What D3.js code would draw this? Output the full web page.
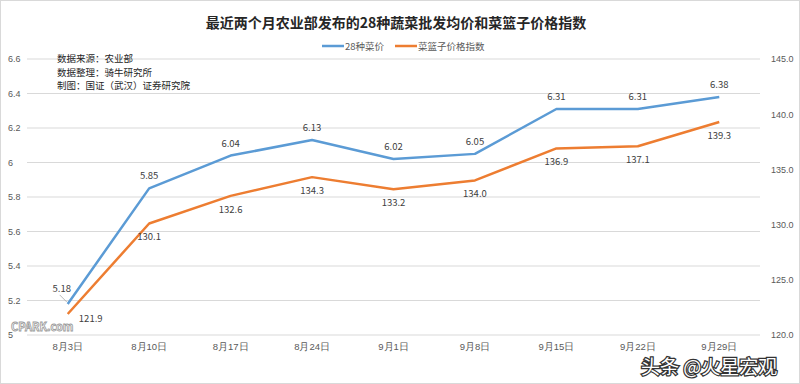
<!DOCTYPE html>
<html>
<head>
<meta charset="utf-8">
<script src="https://cdn.jsdelivr.net/npm/d3@7"></script>
<style>
  body { margin: 0; background: #fff; }
  svg { display: block; font-family: "Noto Sans CJK SC", "Microsoft YaHei", sans-serif; }
</style>
</head>
<body>
<svg id="chart" width="800" height="384"></svg>
<script>
// data
const dates = ["8月3日", "8月10日", "8月17日", "8月24日", "9月1日", "9月8日", "9月15日", "9月22日", "9月29日"];
const vegPrice = [5.18, 5.85, 6.04, 6.13, 6.02, 6.05, 6.31, 6.31, 6.38];
const basketIndex = [121.9, 130.1, 132.6, 134.3, 133.2, 134.0, 136.9, 137.1, 139.3];
const leftTicks = [5, 5.2, 5.4, 5.6, 5.8, 6, 6.2, 6.4, 6.6];
const rightTicks = [120, 125, 130, 135, 140, 145];
const notes = ["数据来源：农业部", "数据整理：骑牛研究所", "制图：国证（武汉）证券研究院"];

const svg = d3.select("#chart");
const width = +svg.attr("width");
const height = +svg.attr("height");

const blue = "#5b9bd5";
const orange = "#ed7d31";
const textColor = "#595959";

const plotLeft = 27, plotRight = 760, plotTop = 59, plotBottom = 335;

const x = d3.scaleBand().domain(dates).range([plotLeft, plotRight]);
const yLeft = d3.scaleLinear().domain([5, 6.6]).range([plotBottom, plotTop]);
const yRight = d3.scaleLinear().domain([120, 145]).range([plotBottom, plotTop]);
const cx = d => x(d) + x.bandwidth() / 2;

// frame
svg.append("rect")
  .attr("x", 0.5).attr("y", 0.5)
  .attr("width", width - 1).attr("height", height - 1)
  .attr("fill", "#fff")
  .attr("stroke", "#d9d9d9");

// gridlines
svg.append("g")
  .selectAll("line")
  .data(leftTicks)
  .join("line")
  .attr("x1", plotLeft).attr("x2", plotRight)
  .attr("y1", d => yLeft(d)).attr("y2", d => yLeft(d))
  .attr("stroke", "#d9d9d9")
  .attr("stroke-width", 1);

// left axis
const leftAxis = svg.append("g")
  .attr("transform", `translate(${plotLeft - 4},0)`)
  .call(d3.axisLeft(yLeft).tickValues(leftTicks).tickSize(0).tickPadding(3).tickFormat(d3.format("")));
leftAxis.select(".domain").remove();
leftAxis.selectAll("text")
  .attr("fill", textColor)
  .attr("font-size", 9)
  .attr("text-anchor", "start")
  .attr("x", 8 - (plotLeft - 4));

// right axis
const rightAxis = svg.append("g")
  .attr("transform", `translate(${plotRight + 9},0)`)
  .call(d3.axisRight(yRight).tickValues(rightTicks).tickSize(0).tickPadding(2).tickFormat(d3.format(".1f")));
rightAxis.select(".domain").remove();
rightAxis.selectAll("text").attr("fill", textColor).attr("font-size", 9);

// bottom axis
const bottomAxis = svg.append("g")
  .attr("transform", `translate(0,${plotBottom})`)
  .call(d3.axisBottom(x).tickSize(0).tickPadding(8));
bottomAxis.select(".domain").remove();
bottomAxis.selectAll("text").attr("fill", textColor).attr("font-size", 9.5);

// lines
const lineLeft = d3.line().x((d, i) => cx(dates[i])).y(d => yLeft(d));
const lineRight = d3.line().x((d, i) => cx(dates[i])).y(d => yRight(d));

svg.append("path")
  .datum(basketIndex)
  .attr("d", lineRight)
  .attr("fill", "none")
  .attr("stroke", orange)
  .attr("stroke-width", 2.5)
  .attr("stroke-linejoin", "round");

svg.append("path")
  .datum(vegPrice)
  .attr("d", lineLeft)
  .attr("fill", "none")
  .attr("stroke", blue)
  .attr("stroke-width", 2.5)
  .attr("stroke-linejoin", "round");

// data labels
svg.append("g")
  .selectAll("text")
  .data(vegPrice)
  .join("text")
  .attr("x", (d, i) => i === 0 ? cx(dates[i]) - 6 : cx(dates[i]))
  .attr("y", (d, i) => i === 0 ? yLeft(d) - 12 : yLeft(d) - 9)
  .attr("text-anchor", "middle")
  .attr("font-size", 9.5)
  .attr("fill", "#404040")
  .text(d => d3.format(".2f")(d));

// leader line for the first blue label
svg.append("line")
  .attr("x1", cx(dates[0]) - 8).attr("y1", yLeft(vegPrice[0]) - 9)
  .attr("x2", cx(dates[0]) - 1).attr("y2", yLeft(vegPrice[0]) - 2)
  .attr("stroke", "#a6a6a6").attr("stroke-width", 0.8);

svg.append("g")
  .selectAll("text")
  .data(basketIndex)
  .join("text")
  .attr("x", (d, i) => i === 0 ? cx(dates[i]) + 23 : cx(dates[i]))
  .attr("y", (d, i) => i === 0 ? yRight(d) + 8 : yRight(d) + 17)
  .attr("text-anchor", "middle")
  .attr("font-size", 9.5)
  .attr("fill", "#404040")
  .text(d => d3.format(".1f")(d));

// title
svg.append("text")
  .attr("x", 396).attr("y", 28)
  .attr("text-anchor", "middle")
  .attr("font-size", 14)
  .attr("font-weight", "bold")
  .attr("fill", "#262626")
  .text("最近两个月农业部发布的28种蔬菜批发均价和菜篮子价格指数");

// legend
const legend = [
  { name: "28种菜价", color: blue, x: 322 },
  { name: "菜篮子价格指数", color: orange, x: 395 }
];
const lg = svg.append("g").selectAll("g").data(legend).join("g")
  .attr("transform", d => `translate(${d.x},46)`);
lg.append("line").attr("x1", 0).attr("x2", 22).attr("y1", 0).attr("y2", 0)
  .attr("stroke", d => d.color).attr("stroke-width", 2.5);
lg.append("text").attr("x", 23).attr("y", 4)
  .attr("font-size", 9.5).attr("fill", textColor)
  .text(d => d.name);

// notes
svg.append("g")
  .selectAll("text")
  .data(notes)
  .join("text")
  .attr("x", 57)
  .attr("y", (d, i) => 62 + i * 13.5)
  .attr("font-size", 9.5)
  .attr("fill", "#262626")
  .text(d => d);

// watermarks
svg.append("text")
  .attr("x", 11).attr("y", 331)
  .attr("font-size", 11)
  .attr("font-weight", "bold")
  .attr("fill", "#fff")
  .attr("stroke", "#9a9a9a")
  .attr("stroke-width", 0.8)
  .text("CPARK.com");

svg.append("text")
  .attr("x", 641).attr("y", 374)
  .attr("font-size", 19)
  .attr("fill", "#fff")
  .attr("stroke", "#333")
  .attr("stroke-width", 2.5)
  .attr("paint-order", "stroke")
  .text("头条 @火星宏观");
</script>
</body>
</html>
